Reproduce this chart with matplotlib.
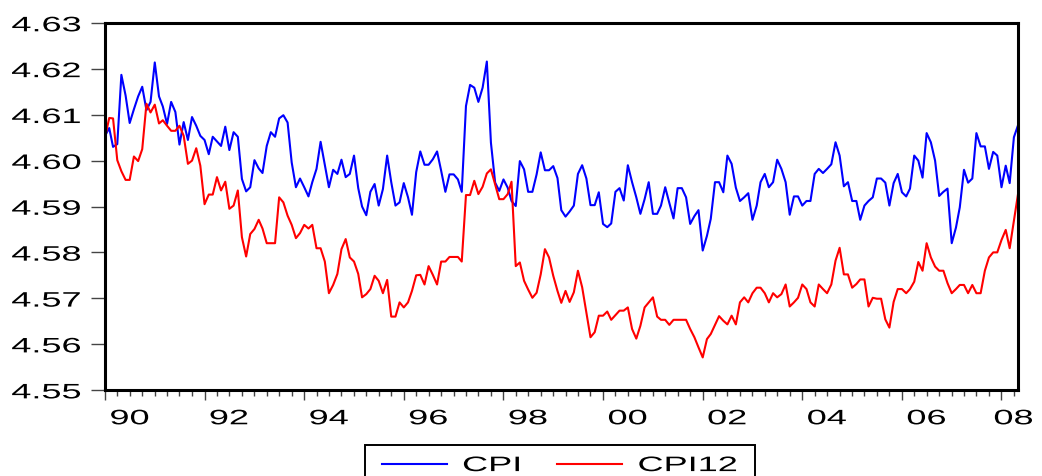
import numpy as np
import pandas as pd
import matplotlib
matplotlib.use("Agg")
import matplotlib.pyplot as plt
import matplotlib.dates as mdates
from matplotlib.patheffects import AbstractPathEffect, Stroke
from matplotlib.transforms import Affine2D, ScaledTranslation

# Monthly observations, 1990M01 - 2008M05 (log price index)
months = pd.date_range("1990-01-01", periods=221, freq="MS")

cpi = [
    4.6054, 4.6071, 4.6030, 4.6036, 4.6187, 4.6142, 4.6082, 4.6112, 4.6140, 4.6161,
    4.6110, 4.6128, 4.6214, 4.6140, 4.6118, 4.6080, 4.6128, 4.6106, 4.6035, 4.6084,
    4.6045, 4.6095, 4.6076, 4.6054, 4.6045, 4.6014, 4.6052, 4.6042, 4.6032, 4.6074,
    4.6023, 4.6062, 4.6052, 4.5960, 4.5933, 4.5942, 4.6001, 4.5983, 4.5973, 4.6032,
    4.6062, 4.6052, 4.6092, 4.6099, 4.6083, 4.5996, 4.5942, 4.5961, 4.5942, 4.5922,
    4.5953, 4.5982, 4.6041, 4.5990, 4.5942, 4.5980, 4.5971, 4.6002, 4.5964, 4.5971,
    4.6011, 4.5940, 4.5900, 4.5881, 4.5932, 4.5949, 4.5902, 4.5938, 4.6011, 4.5953,
    4.5902, 4.5909, 4.5951, 4.5920, 4.5882, 4.5975, 4.6020, 4.5991, 4.5991, 4.6003,
    4.6020, 4.5978, 4.5932, 4.5970, 4.5970, 4.5959, 4.5932, 4.6119, 4.6165, 4.6159,
    4.6128, 4.6159, 4.6216, 4.6039, 4.5952, 4.5934, 4.5959, 4.5941, 4.5912, 4.5901,
    4.5999, 4.5981, 4.5932, 4.5932, 4.5970, 4.6018, 4.5979, 4.5979, 4.5988, 4.5962,
    4.5892, 4.5878, 4.5889, 4.5902, 4.5971, 4.5990, 4.5961, 4.5903, 4.5903, 4.5931,
    4.5862, 4.5855, 4.5863, 4.5932, 4.5940, 4.5913, 4.5990, 4.5953, 4.5920, 4.5884,
    4.5916, 4.5953, 4.5884, 4.5884, 4.5902, 4.5942, 4.5908, 4.5874, 4.5940, 4.5940,
    4.5920, 4.5862, 4.5879, 4.5892, 4.5804, 4.5836, 4.5873, 4.5953, 4.5953, 4.5931,
    4.6011, 4.5993, 4.5941, 4.5912, 4.5920, 4.5929, 4.5871, 4.5902, 4.5953, 4.5971,
    4.5942, 4.5953, 4.6002, 4.5982, 4.5953, 4.5882, 4.5922, 4.5922, 4.5902, 4.5912,
    4.5912, 4.5971, 4.5982, 4.5973, 4.5982, 4.5992, 4.6040, 4.6011, 4.5944, 4.5953,
    4.5912, 4.5912, 4.5871, 4.5902, 4.5912, 4.5920, 4.5961, 4.5961, 4.5952, 4.5902,
    4.5951, 4.5971, 4.5931, 4.5922, 4.5939, 4.6011, 4.6000, 4.5963, 4.6060, 4.6040,
    4.6000, 4.5923, 4.5932, 4.5939, 4.5820, 4.5854, 4.5898, 4.5980, 4.5952, 4.5961,
    4.6060, 4.6031, 4.6031, 4.5982, 4.6019, 4.6011, 4.5942, 4.5989, 4.5951, 4.6051,
    4.6077,
]

cpi12 = [
    4.6050, 4.6093, 4.6092, 4.6001, 4.5977, 4.5958, 4.5958, 4.6009, 4.5999, 4.6025,
    4.6124, 4.6105, 4.6122, 4.6081, 4.6088, 4.6076, 4.6065, 4.6065, 4.6076, 4.6054,
    4.5993, 4.6000, 4.6027, 4.5989, 4.5905, 4.5926, 4.5926, 4.5964, 4.5935, 4.5954,
    4.5895, 4.5902, 4.5935, 4.5833, 4.5791, 4.5840, 4.5851, 4.5871, 4.5852, 4.5820,
    4.5820, 4.5820, 4.5920, 4.5909, 4.5880, 4.5860, 4.5831, 4.5842, 4.5860, 4.5852,
    4.5860, 4.5809, 4.5809, 4.5780, 4.5711, 4.5729, 4.5753, 4.5807, 4.5829, 4.5789,
    4.5780, 4.5753, 4.5702, 4.5709, 4.5720, 4.5749, 4.5738, 4.5711, 4.5740, 4.5660,
    4.5660, 4.5691, 4.5680, 4.5691, 4.5716, 4.5750, 4.5751, 4.5730, 4.5770, 4.5751,
    4.5730, 4.5780, 4.5780, 4.5790, 4.5790, 4.5790, 4.5780, 4.5925, 4.5925, 4.5956,
    4.5927, 4.5943, 4.5972, 4.5981, 4.5948, 4.5916, 4.5916, 4.5927, 4.5954, 4.5770,
    4.5778, 4.5738, 4.5719, 4.5701, 4.5712, 4.5752, 4.5807, 4.5789, 4.5749, 4.5716,
    4.5690, 4.5716, 4.5692, 4.5713, 4.5760, 4.5724, 4.5669, 4.5615, 4.5626, 4.5662,
    4.5662, 4.5671, 4.5653, 4.5663, 4.5673, 4.5673, 4.5680, 4.5633, 4.5612, 4.5640,
    4.5680, 4.5691, 4.5702, 4.5660, 4.5653, 4.5653, 4.5642, 4.5653, 4.5653, 4.5653,
    4.5653, 4.5633, 4.5615, 4.5593, 4.5571, 4.5611, 4.5622, 4.5642, 4.5661, 4.5651,
    4.5643, 4.5662, 4.5643, 4.5691, 4.5702, 4.5691, 4.5711, 4.5723, 4.5723, 4.5711,
    4.5691, 4.5711, 4.5702, 4.5709, 4.5730, 4.5682, 4.5691, 4.5701, 4.5730, 4.5720,
    4.5691, 4.5682, 4.5730, 4.5720, 4.5711, 4.5730, 4.5782, 4.5810, 4.5752, 4.5752,
    4.5723, 4.5731, 4.5741, 4.5741, 4.5682, 4.5701, 4.5699, 4.5699, 4.5654, 4.5636,
    4.5692, 4.5720, 4.5720, 4.5711, 4.5720, 4.5736, 4.5779, 4.5760, 4.5820, 4.5789,
    4.5769, 4.5760, 4.5760, 4.5733, 4.5711, 4.5720, 4.5729, 4.5729, 4.5711, 4.5729,
    4.5711, 4.5711, 4.5760, 4.5789, 4.5800, 4.5800, 4.5827, 4.5849, 4.5809, 4.5869,
    4.5927,
]

series_labels = ["CPI", "CPI12"]
y_ticks = [4.55, 4.56, 4.57, 4.58, 4.59, 4.60, 4.61, 4.62, 4.63]
x_label_years = list(range(1990, 2009, 2))


class Squash(AbstractPathEffect):
    """Draw text outlines compressed vertically about their middle,
    optionally shifted vertically by ``dy`` points."""

    def __init__(self, sy=0.58, dy=0.0):
        super().__init__()
        self._sy = sy
        self._dy = dy

    def draw_path(self, renderer, gc, tpath, affine, rgbFace=None):
        if len(tpath.vertices) == 0:
            return
        ext = tpath.get_extents()
        cy = 0.5 * (ext.y0 + ext.y1)
        squash = Affine2D().translate(0, -cy).scale(1, self._sy).translate(0, cy)
        shift = Affine2D().translate(0, renderer.points_to_pixels(self._dy))
        renderer.draw_path(gc, tpath, squash + affine + shift, rgbFace)


plt.rcParams["font.family"] = ["Liberation Sans", "DejaVu Sans"]
FS = 26
SQ = 0.58

fig = plt.figure(figsize=(10.42, 4.77), dpi=100)
ax = fig.add_axes([105 / 1042, 86 / 477, 913 / 1042, 367 / 477])

ax.plot(months, cpi, color="#0000ff", lw=1.5, label=series_labels[0])
ax.plot(months, cpi12, color="#ff0000", lw=1.5, label=series_labels[1])

ax.set_xlim(months[0], months[-1])
ax.set_ylim(y_ticks[0], y_ticks[-1])

for sp in ax.spines.values():
    sp.set_linewidth(2.2)
    sp.set_color("black")

# y axis
ax.set_yticks(y_ticks)
ax.set_yticklabels([f"{v:.2f}" for v in y_ticks])
ax.tick_params(axis="y", direction="out", length=10.3, width=1.0,
               color="#444444", pad=6.5, labelsize=FS)

# x axis: major ticks every second January, minor ticks each quarter
major_x = [pd.Timestamp(f"{y}-01-01") for y in x_label_years]
ax.set_xticks(major_x)
ax.set_xticklabels([f"{y % 100:02d}" for y in x_label_years])
ax.xaxis.set_minor_locator(mdates.MonthLocator(bymonth=[1, 4, 7, 10]))
ax.tick_params(axis="x", which="major", direction="out", length=7, width=1.0,
               color="#444444", pad=2, labelsize=FS)
ax.tick_params(axis="x", which="minor", direction="out", length=4.5, width=1.0,
               color="#444444")

# year labels sit in the middle of their year; the last one is pulled in
xlabels = ax.get_xticklabels()
for k, lbl in enumerate(xlabels):
    dx = 0.12 if k == len(xlabels) - 1 else 0.245
    lbl.set_transform(lbl.get_transform() + ScaledTranslation(dx, 0, fig.dpi_scale_trans))
    lbl.set_path_effects([Squash(SQ)])
for lbl in ax.get_yticklabels():
    lbl.set_path_effects([Squash(SQ)])

# legend below the plot; its frame runs off the bottom edge
leg = fig.legend(loc="upper center", bbox_to_anchor=(560 / 1042, 1 - 425 / 477),
                 ncol=2, fontsize=FS, frameon=True, fancybox=False,
                 edgecolor="black", framealpha=1, borderpad=0.47,
                 handlelength=1.8, handletextpad=0.42, columnspacing=0.97,
                 borderaxespad=0)
frame = leg.get_frame()
frame.set_linewidth(1.4)
frame.set_path_effects([Stroke(offset=(0, -15.1))])
ENTRY_DY = -6.0
for t in leg.get_texts():
    t.set_path_effects([Squash(SQ, dy=ENTRY_DY)])
for h in leg.legend_handles:
    h.set_path_effects([Stroke(offset=(0, ENTRY_DY))])

fig.savefig("out.png", dpi=100)
